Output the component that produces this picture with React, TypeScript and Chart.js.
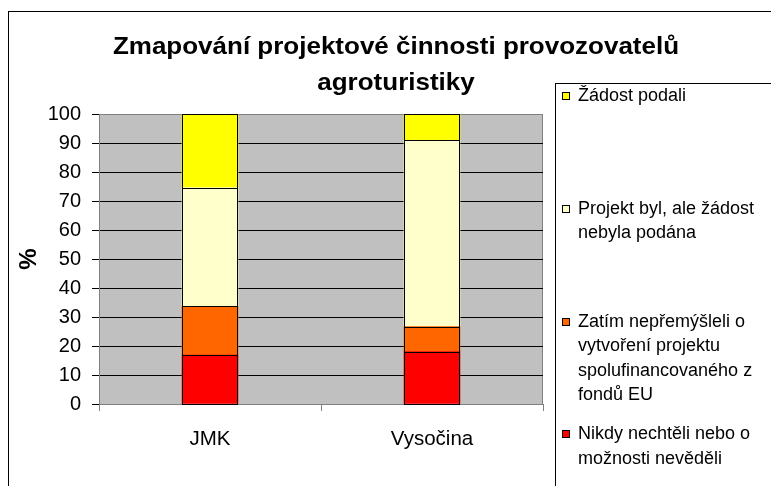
import React, { useEffect, useRef } from 'react';
import { Chart, registerables } from 'chart.js';

Chart.register(...registerables);

const TITLE_LINES = ['Zmapování projektové činnosti provozovatelů', 'agroturistiky'];
const Y_TITLE = '%';
const CATEGORIES = ['JMK', 'Vysočina'];

// stacked from bottom to top (percent)
const NIKDY = [16.9, 18.1];
const ZATIM = [16.8, 8.6];
const PROJEKT = [40.9, 64.2];
const ZADOST = [25.4, 9.1];

const SERIES_NAMES = [
  'Nikdy nechtěli nebo o možnosti nevěděli',
  'Zatím nepřemýšleli o vytvoření projektu spolufinancovaného z fondů EU',
  'Projekt byl, ale žádost nebyla podána',
  'Žádost podali',
];
const LEGEND_LINES = [
  ['Nikdy nechtěli nebo o', 'možnosti nevěděli'],
  ['Zatím nepřemýšleli o', 'vytvoření projektu', 'spolufinancovaného z', 'fondů EU'],
  ['Projekt byl, ale žádost', 'nebyla podána'],
  ['Žádost podali'],
];
const SERIES_COLORS = ['#FF0000', '#FF6600', '#FFFFCC', '#FFFF00'];

const FONT = '"Liberation Sans", Arial, sans-serif';

const decorPlugin = {
  id: 'decor',
  beforeDraw(chart: any) {
    const { ctx, chartArea: a } = chart;
    ctx.save();
    ctx.fillStyle = '#FFFFFF';
    ctx.fillRect(0, 0, chart.width, chart.height);
    ctx.strokeStyle = '#000000';
    ctx.lineWidth = 1;
    ctx.strokeRect(8.5, 11.5, chart.width + 40, chart.height + 40);
    ctx.fillStyle = '#C0C0C0';
    ctx.fillRect(a.left, a.top, a.right - a.left, a.bottom - a.top);
    ctx.strokeStyle = '#808080';
    ctx.beginPath();
    ctx.moveTo(a.right - 0.5, a.top);
    ctx.lineTo(a.right - 0.5, a.bottom);
    ctx.stroke();
    ctx.restore();
  },
  afterDatasetsDraw(chart: any) {
    const { ctx } = chart;
    ctx.save();
    ctx.strokeStyle = '#000000';
    ctx.lineWidth = 1;
    chart.data.datasets.forEach((_d: any, di: number) => {
      const meta = chart.getDatasetMeta(di);
      meta.data.forEach((el: any) => {
        const p = el.getProps(['x', 'y', 'base', 'width'], true);
        const x1 = Math.round(p.x - p.width / 2);
        const x2 = Math.round(p.x + p.width / 2);
        const y1 = Math.round(Math.min(p.y, p.base));
        const y2 = Math.round(Math.max(p.y, p.base));
        ctx.strokeRect(x1 + 0.5, y1 + 0.5, x2 - x1 - 1, y2 - y1);
      });
    });
    ctx.restore();
  },
  afterDraw(chart: any) {
    const { ctx, chartArea: a } = chart;
    ctx.save();
    // title
    ctx.fillStyle = '#000000';
    ctx.font = `bold 24px ${FONT}`;
    ctx.textAlign = 'center';
    ctx.textBaseline = 'alphabetic';
    const titleBaselines = [54, 90];
    TITLE_LINES.forEach((line, i) => {
      ctx.save();
      ctx.translate(396, titleBaselines[i]);
      ctx.scale(1.083, 1);
      ctx.fillText(line, 0, 0);
      ctx.restore();
    });
    // y axis title
    ctx.save();
    ctx.translate(29, (a.top + a.bottom) / 2);
    ctx.rotate(-Math.PI / 2);
    ctx.font = `bold 24px ${FONT}`;
    ctx.textAlign = 'center';
    ctx.textBaseline = 'middle';
    ctx.fillText(Y_TITLE, 0, 0);
    ctx.restore();
    // legend
    ctx.strokeStyle = '#000000';
    ctx.lineWidth = 1;
    ctx.strokeRect(555.5, 83.5, 400, 500);
    ctx.font = `18px ${FONT}`;
    ctx.textAlign = 'left';
    ctx.textBaseline = 'alphabetic';
    const ds = chart.data.datasets;
    const order = [3, 2, 1, 0];
    order.forEach((di, k) => {
      const base = 101 + k * 112.8;
      const b = Math.round(base);
      ctx.fillStyle = ds[di].backgroundColor;
      ctx.fillRect(562, b - 9, 8, 8);
      ctx.strokeStyle = '#000000';
      ctx.strokeRect(562.5, b - 8.5, 7, 7);
      ctx.fillStyle = '#000000';
      LEGEND_LINES[di].forEach((ln, j) => {
        ctx.fillText(ln, 578, base + j * 24.5);
      });
    });
    ctx.restore();
  },
};

export default function App() {
  const ref = useRef<HTMLCanvasElement | null>(null);
  useEffect(() => {
    if (!ref.current) return;
    const values = [NIKDY, ZATIM, PROJEKT, ZADOST];
    const chart = new Chart(ref.current, {
      type: 'bar',
      data: {
        labels: CATEGORIES,
        datasets: values.map((v, i) => ({
          label: SERIES_NAMES[i],
          data: v,
          backgroundColor: SERIES_COLORS[i],
          borderWidth: 0,
          barThickness: 56,
        })),
      },
      options: {
        responsive: false,
        animation: false,
        devicePixelRatio: 1,
        layout: { padding: { left: 0, top: 114, right: 228, bottom: 0 } },
        plugins: {
          legend: { display: false },
          title: { display: false },
          tooltip: { enabled: false },
        },
        scales: {
          x: {
            stacked: true,
            afterFit: (s: any) => { s.height = 82; },
            grid: {
              offset: true,
              drawOnChartArea: false,
              drawTicks: true,
              tickLength: 7,
              tickColor: '#808080',
            },
            border: { color: '#808080', width: 1 },
            ticks: {
              color: '#000000',
              font: { family: FONT, size: 20.5 },
              padding: 16,
            },
          },
          y: {
            stacked: true,
            min: 0,
            max: 100,
            afterFit: (s: any) => { s.width = 99; },
            grid: {
              color: (c: any) => (c.tick && c.tick.value === 100 ? '#808080' : '#000000'),
              tickColor: '#000000',
              tickLength: 7,
              drawTicks: true,
            },
            border: { color: '#808080', width: 1 },
            ticks: {
              stepSize: 10,
              color: '#000000',
              font: { family: FONT, size: 20 },
              padding: 11,
            },
          },
        },
      },
      plugins: [decorPlugin],
    });
    return () => chart.destroy();
  }, []);
  return (
    <div style={{ position: 'fixed', left: 0, top: 0, width: 771, height: 486, background: '#fff' }}>
      <canvas ref={ref} width={771} height={486} style={{ display: 'block', width: 771, height: 486 }} />
    </div>
  );
}
